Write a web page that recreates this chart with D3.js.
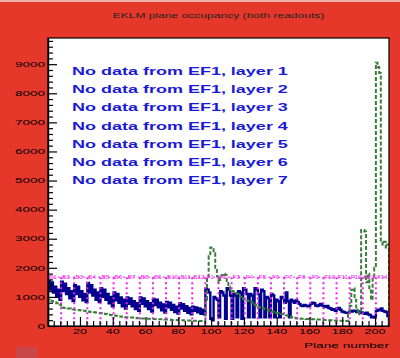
<!DOCTYPE html>
<html>
<head>
<meta charset="utf-8">
<script src="https://cdn.jsdelivr.net/npm/d3@7"></script>
<style>
  body { margin: 0; background: #e5382a; }
  svg { display: block; font-family: "Liberation Sans", Arial, sans-serif; }
</style>
</head>
<body>
<div id="chart-area"></div>
<script>
// plane occupancy, backward section (B1..B12, 8 planes each)
var blueBackward = [
    1550,1250,1500,1150,1350,1000,1250,900,
    1520,1200,1450,1100,1300,950,1200,860,
    1400,1100,1350,1000,1200,880,1100,820,
    1480,1150,1400,1050,1250,900,1150,820,
    1300,1000,1250,900,1100,780,1000,680,
    1150,880,1100,800,980,680,900,600,
    980,760,950,680,850,580,780,520,
    980,760,950,680,850,580,780,500,
    930,720,900,640,800,540,740,460,
    830,640,800,560,720,480,660,430,
    780,600,750,520,680,450,620,400,
    660,520,640,470,600,420,560,400
];
// forward section (F1..F14)
var blueForward = [
    1280,1250,1150,250,200,1000,950,900,
    300,1200,1150,1050,250,1300,1250,1050,
    250,1100,1050,300,1200,1150,250,1300,
    1250,1100,300,1100,1050,300,1300,1250,
    1100,300,1250,1200,300,1000,950,300,
    1100,1050,300,900,850,300,1000,950,
    800,1150,850,300,900,850,800,880,
    820,760,700,690,720,700,680,700,
    760,800,780,700,690,720,760,700,
    680,650,690,620,600,560,580,520,
    600,620,560,500,480,460,450,460,
    520,500,530,520,480,500,450,470,
    440,420,460,400,380,300,320,290,
    520,560,540,600,520,500,480,340
];
var greenBackward = [
    900,880,860,840,820,780,760,740,
    640,630,620,610,600,600,590,580,
    560,560,550,540,530,520,520,510,
    500,490,480,480,470,460,450,450,
    440,430,420,410,400,390,380,370,
    360,350,340,330,330,320,310,300,
    300,300,290,290,280,280,270,270,
    270,260,260,260,250,250,250,240,
    240,240,240,230,230,230,230,220,
    220,220,220,210,210,210,210,200,
    200,200,200,190,190,190,190,180,
    180,180,180,170,170,170,170,160
];
var greenForward = [
    900,1700,2400,2700,2700,2500,2000,1700,
    1500,1650,1750,1800,1750,1550,1350,1250,
    1200,1180,1150,1100,1050,1000,960,930,
    900,880,860,840,800,760,720,690,
    660,640,620,600,580,560,540,520,
    500,480,460,450,440,420,410,400,
    390,370,350,330,310,290,280,270,
    260,260,250,250,250,240,240,240,
    240,230,230,230,220,220,220,210,
    210,210,200,200,200,190,190,190,
    190,180,180,180,180,170,170,400,
    700,1250,1300,900,600,400,500,3300,
    3300,3250,1500,1800,1300,900,1700,2000,
    9050,8900,8700,2900,2800,2900,2700,2800
];
var layerNames = ["B1","B2","B3","B4","B5","B6","B7","B8","B9","B10","B11","B12",
    "F1","F2","F3","F4","F5","F6","F7","F8","F9","F10","F11","F12","F13","F14"];
var messages = ["No data from EF1, layer 1","No data from EF1, layer 2","No data from EF1, layer 3",
    "No data from EF1, layer 4","No data from EF1, layer 5","No data from EF1, layer 6",
    "No data from EF1, layer 7"];
var yTicks = [0,1000,2000,3000,4000,5000,6000,7000,8000,9000];
var xTicks = [20,40,60,80,100,120,140,160,180,200];

var blueData = blueBackward.concat(blueForward);
var greenData = greenBackward.concat(greenForward);

var width = 400, height = 358;
var margin = {top: 38, bottom: 32, left: 48, right: 11};
var sx = 1.8; // text is drawn wide, like the picture

var svg = d3.select("#chart-area").append("svg")
    .attr("width", width)
    .attr("height", height);

svg.append("rect").attr("width", width).attr("height", height).attr("fill", "#e5382a");
svg.append("rect").attr("width", width).attr("height", 2).attr("fill", "#f2b0a8");
svg.append("rect").attr("x", 16).attr("y", 347).attr("width", 21).attr("height", 11).attr("fill", "#c9474b");

var x = d3.scaleLinear().domain([0.5, 208.5]).range([margin.left, width - margin.right]);
var y = d3.scaleLinear().domain([0, 9900]).range([height - margin.bottom, margin.top]);

svg.append("rect")
    .attr("x", x(0.5)).attr("y", y(9900))
    .attr("width", x(208.5) - x(0.5)).attr("height", y(0) - y(9900))
    .attr("fill", "white");

svg.append("clipPath").attr("id", "clip")
  .append("rect")
    .attr("x", x(0.5)).attr("y", y(9900))
    .attr("width", x(208.5) - x(0.5)).attr("height", y(0) - y(9900));

var plot = svg.append("g").attr("clip-path", "url(#clip)");

function histPath(values) {
    var pts = [[0.5, 0]];
    values.forEach((v, i) => {
        pts.push([i + 0.5, v]);
        pts.push([i + 1.5, v]);
    });
    pts.push([values.length + 0.5, 0]);
    return d3.line().x(d => x(d[0])).y(d => y(d[1]))(pts);
}

plot.append("path")
    .attr("d", histPath(blueData))
    .attr("fill", "none")
    .attr("stroke", "#00008f")
    .attr("stroke-width", 2.4);

plot.append("path")
    .attr("d", histPath(greenData))
    .attr("fill", "none")
    .attr("stroke", "#3a7d3a")
    .attr("stroke-width", 2)
    .attr("stroke-dasharray", "4,2");

// layer separators
var labelY = 1680;
plot.append("line")
    .attr("x1", x(0.5)).attr("x2", x(208.5))
    .attr("y1", y(labelY)).attr("y2", y(labelY))
    .attr("stroke", "#ee22ee").attr("stroke-width", 1).attr("stroke-dasharray", "2,3");

plot.selectAll(".sep")
    .data(layerNames.slice(1))
    .enter().append("line")
    .attr("class", "sep")
    .attr("x1", (d, i) => x((i + 1) * 8 + 0.5))
    .attr("x2", (d, i) => x((i + 1) * 8 + 0.5))
    .attr("y1", y(labelY))
    .attr("y2", y(0))
    .attr("stroke", "#ee22ee").attr("stroke-width", 2).attr("stroke-dasharray", "2,3");

plot.selectAll(".layer")
    .data(layerNames)
    .enter().append("text")
    .attr("class", "layer")
    .attr("transform", (d, i) => "translate(" + (x(i * 8 + 0.5) + 1) + "," + (y(labelY) + 2) + ") scale(1.4,1)")
    .attr("font-size", "4.5px")
    .attr("fill", "#ee22ee")
    .text(d => d);

// axes
var leftAxis = d3.axisLeft(y).tickValues(yTicks).tickSize(-9).tickSizeOuter(0).tickFormat("");
svg.append("g").attr("transform", "translate(" + x(0.5) + ",0)").call(leftAxis);
var leftMinor = d3.axisLeft(y).tickValues(d3.range(200, 9900, 200).filter(v => v % 1000 != 0))
    .tickSize(-5).tickSizeOuter(0).tickFormat("");
svg.append("g").attr("transform", "translate(" + x(0.5) + ",0)").call(leftMinor);

var bottomAxis = d3.axisBottom(x).tickValues(xTicks).tickSize(-9).tickSizeOuter(0).tickFormat("");
svg.append("g").attr("transform", "translate(0," + y(0) + ")").call(bottomAxis);
var bottomMinor = d3.axisBottom(x).tickValues(d3.range(4, 208, 4).filter(v => v % 20 != 0))
    .tickSize(-5).tickSizeOuter(0).tickFormat("");
svg.append("g").attr("transform", "translate(0," + y(0) + ")").call(bottomMinor);

svg.selectAll(".domain, .tick line").attr("stroke", "black").attr("stroke-width", 1.2);

svg.append("rect")
    .attr("x", x(0.5)).attr("y", y(9900))
    .attr("width", x(208.5) - x(0.5)).attr("height", y(0) - y(9900))
    .attr("fill", "none").attr("stroke", "black").attr("stroke-width", 1.2);

svg.selectAll(".ylab")
    .data(yTicks)
    .enter().append("text")
    .attr("class", "ylab")
    .attr("transform", d => "translate(45," + (y(d) + 2.7) + ") scale(" + sx + ",1)")
    .attr("text-anchor", "end")
    .attr("font-size", "7.5px")
    .text(d => d);

svg.selectAll(".xlab")
    .data(xTicks)
    .enter().append("text")
    .attr("class", "xlab")
    .attr("transform", d => "translate(" + x(d) + ",334) scale(" + sx + ",1)")
    .attr("text-anchor", "middle")
    .attr("font-size", "7px")
    .text(d => d);

svg.append("text")
    .attr("transform", "translate(389,348) scale(" + sx + ",1)")
    .attr("text-anchor", "end")
    .attr("font-size", "7.6px")
    .text("Plane number");

svg.append("text")
    .attr("transform", "translate(218.5,17.5) scale(" + sx + ",1)")
    .attr("text-anchor", "middle")
    .attr("font-size", "6.7px")
    .attr("fill", "#222")
    .text("EKLM plane occupancy (both readouts)");

svg.selectAll(".msg")
    .data(messages)
    .enter().append("text")
    .attr("class", "msg")
    .attr("transform", (d, i) => "translate(72," + (75 + i * 18.2) + ") scale(" + sx + ",1)")
    .attr("font-size", "10px")
    .attr("font-weight", "bold")
    .attr("fill", "#1a1ad6")
    .text(d => d);
</script>
</body>
</html>
